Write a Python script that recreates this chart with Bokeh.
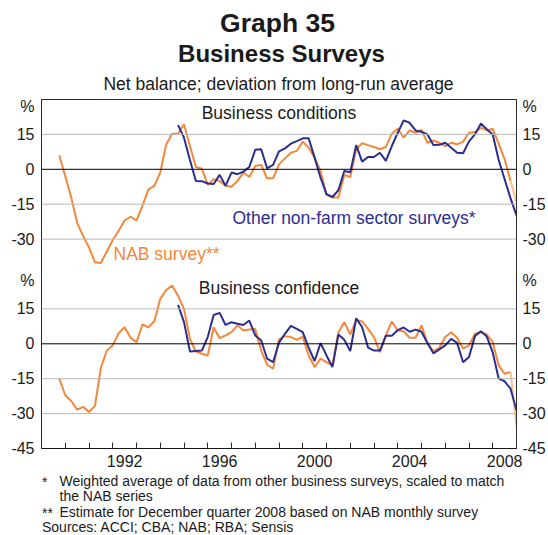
import pandas as pd
from bokeh.plotting import figure
from bokeh.layouts import column
from bokeh.models import Range1d, FixedTicker, LinearAxis, Span, Label
from bokeh.embed import file_html
from bokeh.resources import INLINE

# ---------------- data (net balance, deviation from long-run average) ----------------
nab_quarters = pd.period_range("1989Q3", "2008Q4", freq="Q")
other_quarters = pd.period_range("1994Q3", "2008Q4", freq="Q")

nab_conditions = [
    6.0,
    -3.0, -12.0, -23.0, -28.6,
    -33.6, -40.0, -40.3, -35.3,
    -30.4, -26.4, -22.0, -20.4,
    -22.0, -15.7, -8.6, -7.1,
    -1.4, 10.7, 15.3, 15.4,
    19.3, 10.0, 1.0, 0.3,
    -6.6, -4.3, -5.0, -7.1,
    -7.5, -5.0, -1.4, -3.3,
    1.4, 1.9, -3.9, -3.9,
    2.1, 4.7, 7.1, 7.9,
    11.9, 9.3, 5.0, -0.7,
    -11.0, -12.1, -12.1, -2.4,
    -3.3, 8.5, 11.2, 10.4,
    9.6, 8.6, 9.6, 15.3,
    17.4, 13.6, 16.7, 15.7,
    16.9, 11.4, 12.4, 11.4,
    10.0, 11.4, 10.7, 11.9,
    15.7, 16.0, 17.9, 16.7,
    17.4, 11.0, 4.3, -5.0,
    -14.3,
]
other_conditions = [
    19.0,
    13.6, 4.0, -5.0, -5.1,
    -6.1, -6.3, -2.4, -7.1,
    -1.4, -2.1, -1.0, 1.0,
    8.4, 8.6, 0.4, 1.9,
    7.7, 9.0, 11.0, 12.1,
    13.3, 13.3, 5.0, -3.6,
    -10.7, -11.9, -9.0, -0.7,
    -1.3, 10.4, 3.3, 5.3,
    5.3, 7.1, 3.6, 10.0,
    15.7, 21.0, 20.0, 16.7,
    16.1, 15.0, 10.4, 10.5,
    11.4, 9.3, 7.1, 6.9,
    12.0, 15.0, 19.7, 17.2,
    15.0, 4.0, -4.3, -12.5,
    -19.8,
]
nab_confidence = [
    -15.0,
    -22.1, -24.6, -28.3, -27.1,
    -29.3, -26.7, -10.3, -2.9,
    -0.7, 4.6, 7.1, 2.6,
    0.7, 8.3, 7.1, 9.7,
    19.3, 23.1, 25.0, 20.7,
    15.0, 2.1, -3.3, -4.3,
    -5.0, 7.1, 2.4, 3.6,
    5.0, 7.9, 5.7, 6.1,
    6.4, -2.9, -9.0, -10.7,
    1.9, 3.3, 2.9, 1.7,
    3.1, -5.0, -10.0, -6.4,
    -7.9, -9.3, 5.0, 9.3,
    4.0, 10.2, 9.6, 6.4,
    2.9, -3.6, 3.6, 9.6,
    5.7, 5.4, 2.6, 2.6,
    7.9, 0.3, -3.1, -1.7,
    2.9, 5.0, 2.6, -2.1,
    -0.7, 4.3, 5.0, 4.0,
    0.7, -9.3, -12.9, -12.1,
    -35.7,
]
other_confidence = [
    16.7,
    9.3, -3.3, -3.1, -2.9,
    2.9, 12.4, 13.3, 8.1,
    9.3, 8.6, 8.1, 10.0,
    3.6, 1.4, -6.4, -7.9,
    0.5, 4.3, 7.7, 6.4,
    5.0, -1.7, -7.4, 0.3,
    -5.0, -10.0, 4.0, 1.7,
    -3.1, 11.0, 7.1, -1.6,
    -2.9, -2.9, 3.5, 3.5,
    5.9, 7.0, 5.2, 6.1,
    5.2, 0.3, -4.1, -2.4,
    -0.7, 2.1, 0.4, -7.9,
    -5.7, 3.3, 5.4, 3.1,
    -3.7, -15.0, -16.1, -19.3,
    -28.6,
]

year_labels = ["1992", "1996", "2000", "2004", "2008"]
panel_ticks = [-30, -15, 0, 15]
bottom_ticks = [-45, -30, -15, 0, 15]

assert len(nab_conditions) == len(nab_quarters) == len(nab_confidence)
assert len(other_conditions) == len(other_quarters) == len(other_confidence)

# quarter-end positions in years
nab_x = [q.year + q.quarter / 4 for q in nab_quarters]
oth_x = [q.year + q.quarter / 4 for q in other_quarters]

# ---------------- styling ----------------
ORANGE = "#f5873a"
LIGHT_ORANGE = "#fbc08c"
BLUE = "#2b2e8f"
GRID = "#b8b8b8"
DARK = "#1a1a1a"
AXIS = "#2b2b2b"
FONT = "Liberation Sans"

W = 548
HEAD_H = 95
FOOT_H = 61
BL, BR, BT, BB = 41, 32, 4, 26
FRAME_H = 349
MAIN_H = BT + FRAME_H + BB

YMIN, YMAX = -45, 105          # bottom panel -45..30, top panel stacked above
TOP_START, TOP_END = -120, 30  # top panel's own scale
OFFSET = YMAX - TOP_END        # 75

FL, FR = BL, W - BR            # frame edges in page pixels (shared by all three figures)


def text_fig(height, y0):
    f = figure(width=W, height=height, x_range=Range1d(FL, FR), y_range=Range1d(y0 + height, y0),
               output_backend="svg", toolbar_location=None,
               x_axis_location=None, y_axis_location=None,
               min_border_left=BL, min_border_right=BR, min_border_top=0, min_border_bottom=0)
    f.grid.visible = False
    f.outline_line_color = None
    f.background_fill_color = "white"
    f.border_fill_color = "white"
    return f


def tlabel(f, x, y, text, size, align="left", style="normal", color=DARK):
    f.add_layout(Label(x=x, y=y, text=text, text_font=FONT, text_font_size=size,
                       text_align=align, text_baseline="middle", text_color=color,
                       text_font_style=style))


# ---------------- main chart ----------------
p = figure(width=W, height=MAIN_H, x_range=Range1d(1989, 2009), y_range=Range1d(YMIN, YMAX),
           output_backend="svg", toolbar_location=None,
           x_axis_location=None, y_axis_location=None,
           min_border_left=BL, min_border_right=BR, min_border_top=BT, min_border_bottom=BB)
p.extra_y_ranges = {"top": Range1d(TOP_START, TOP_END)}
p.grid.visible = False
p.outline_line_color = AXIS
p.outline_line_width = 1
p.background_fill_color = "white"
p.border_fill_color = "white"

# grid lines
for v in [-30, -15, 15]:
    p.add_layout(Span(location=v, dimension="width", line_color=GRID, line_width=1))
    p.add_layout(Span(location=v, dimension="width", line_color=GRID, line_width=1, y_range_name="top"))
p.add_layout(Span(location=0, dimension="width", line_color="black", line_width=1))
p.add_layout(Span(location=0, dimension="width", line_color="black", line_width=1, y_range_name="top"))
p.add_layout(Span(location=TOP_START, dimension="width", line_color="black", line_width=1.2, y_range_name="top"))

# series: top panel (Business conditions)
p.line(nab_x[:-1], nab_conditions[:-1], line_color=ORANGE, line_width=2, y_range_name="top")
p.line(nab_x[-2:], nab_conditions[-2:], line_color=LIGHT_ORANGE, line_width=2, y_range_name="top")
p.line(oth_x, other_conditions, line_color=BLUE, line_width=2, y_range_name="top")
# bottom panel (Business confidence)
p.line(nab_x[:-1], nab_confidence[:-1], line_color=ORANGE, line_width=2)
p.line(nab_x[-2:], nab_confidence[-2:], line_color=LIGHT_ORANGE, line_width=2)
p.line(oth_x, other_confidence, line_color=BLUE, line_width=2)

# y axes (left and right), labels for both panels
ticks, overrides = [], {}
for v in bottom_ticks:
    ticks.append(v); overrides[v] = str(v)
ticks.append(27); overrides[27] = "%"
for v in panel_ticks:
    ticks.append(v + OFFSET); overrides[v + OFFSET] = str(v)
ticks.append(102); overrides[102] = "%"

for side, standoff in (("left", 7), ("right", 6)):
    ax = LinearAxis(ticker=FixedTicker(ticks=ticks, minor_ticks=[]),
                    major_label_overrides=overrides)
    ax.major_tick_in = 0
    ax.major_tick_out = 0
    ax.minor_tick_in = 0
    ax.minor_tick_out = 0
    ax.axis_line_color = AXIS
    ax.major_label_standoff = standoff
    ax.major_label_text_font = FONT
    ax.major_label_text_font_size = "16px"
    ax.major_label_text_color = DARK
    p.add_layout(ax, side)

# x axis: year ticks inside, labels at mid-year
label_pos = [int(s) + 0.5 for s in year_labels]
xax = LinearAxis(ticker=FixedTicker(ticks=label_pos, minor_ticks=list(range(1990, 2009))),
                 major_label_overrides={pos: s for pos, s in zip(label_pos, year_labels)})
xax.major_tick_in = 0
xax.major_tick_out = 0
xax.minor_tick_in = 6
xax.minor_tick_out = 0
xax.minor_tick_line_color = AXIS
xax.axis_line_color = AXIS
xax.major_label_standoff = 6
xax.major_label_text_font = FONT
xax.major_label_text_font_size = "16px"
xax.major_label_text_color = DARK
p.add_layout(xax, "below")

# page-pixel -> data helpers for in-frame labels
FT = HEAD_H + BT
FB = FT + FRAME_H


def dx(px):
    return 1989 + (px - FL) * 20 / (FR - FL)


def dy(py):
    return YMIN + (FB - py) * (YMAX - YMIN) / (FB - FT)


def lab(px, py, text, size, align="left", color=DARK):
    p.add_layout(Label(x=dx(px), y=dy(py), text=text, text_font=FONT, text_font_size=size,
                       text_align=align, text_baseline="middle", text_color=color))


CX = (FL + FR) / 2
lab(CX, 112, "Business conditions", "17.5px", "center")
lab(CX, 287, "Business confidence", "17.5px", "center")
lab(113, 253, "NAB survey**", "17.5px", color=ORANGE)
lab(232, 217, "Other non-farm sector surveys*", "17.5px", color=BLUE)

# ---------------- header ----------------
head = text_fig(HEAD_H, 0)
tlabel(head, 277, 22, "Graph 35", "26.5px", "center", "bold")
tlabel(head, 281, 53, "Business Surveys", "24px", "center", "bold")
tlabel(head, 278, 83, "Net balance; deviation from long-run average", "17.5px", "center")

# ---------------- footer ----------------
FOOT_Y0 = HEAD_H + MAIN_H
foot = text_fig(FOOT_H, FOOT_Y0)
tlabel(foot, 41.5, 481, "*", "14px")
tlabel(foot, 59, 480, "Weighted average of data from other business surveys, scaled to match", "14px")
tlabel(foot, 59, 495, "the NAB series", "14px")
tlabel(foot, 41.5, 512, "**", "14px")
tlabel(foot, 59, 511, "Estimate for December quarter 2008 based on NAB monthly survey", "14px")
tlabel(foot, 41.5, 526, "Sources: ACCI; CBA; NAB; RBA; Sensis", "14px")

layout = column(head, p, foot, spacing=0)
open("out.html", "w").write(file_html(layout, INLINE))
